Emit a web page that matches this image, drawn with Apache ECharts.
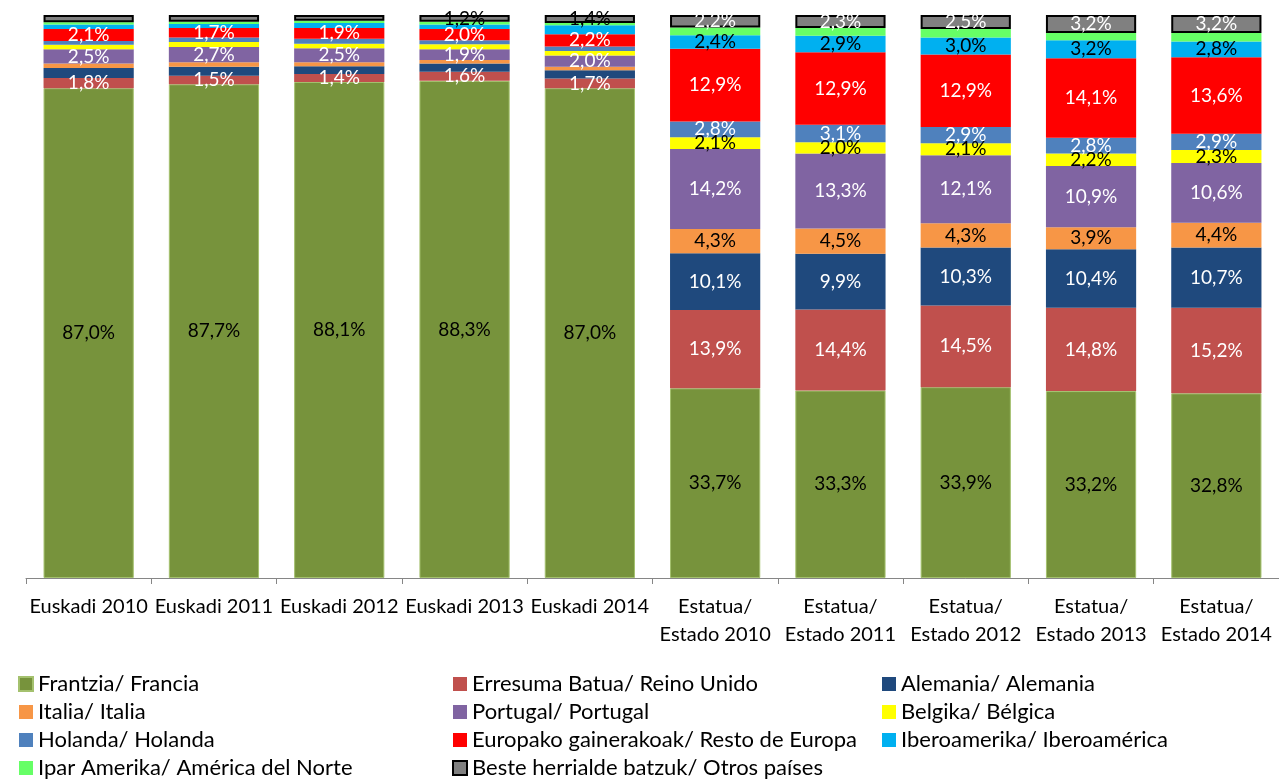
<!DOCTYPE html>
<html>
<head>
<meta charset="utf-8">
<script src="https://cdn.jsdelivr.net/npm/echarts@6/dist/echarts.min.js"></script>
<style>
html,body{margin:0;padding:0;background:#fff;}
#c{width:1279px;height:779px;}
</style>
</head>
<body>
<div id="c"></div>
<script>
var categories = ['Euskadi 2010','Euskadi 2011','Euskadi 2012','Euskadi 2013','Euskadi 2014',
  'Estatua/\nEstado 2010','Estatua/\nEstado 2011','Estatua/\nEstado 2012','Estatua/\nEstado 2013','Estatua/\nEstado 2014'];

var seriesNames = ['Frantzia/ Francia','Erresuma Batua/ Reino Unido','Alemania/ Alemania','Italia/ Italia',
  'Portugal/ Portugal','Belgika/ Bélgica','Holanda/ Holanda','Europako gainerakoak/ Resto de Europa',
  'Iberoamerika/ Iberoamérica','Ipar Amerika/ América del Norte','Beste herrialde batzuk/ Otros países'];

var francia   = [87.0, 87.7, 88.1, 88.3, 87.0, 33.7, 33.3, 33.9, 33.2, 32.8];
var reinoUnido= [1.8, 1.5, 1.4, 1.6, 1.7, 13.9, 14.4, 14.5, 14.8, 15.2];
var alemania  = [1.8, 1.6, 1.4, 1.5, 1.5, 10.1, 9.9, 10.3, 10.4, 10.7];
var italia    = [0.8, 0.8, 0.7, 0.6, 0.6, 4.3, 4.5, 4.3, 3.9, 4.4];
var portugal  = [2.5, 2.7, 2.5, 1.9, 2.0, 14.2, 13.3, 12.1, 10.9, 10.6];
var belgica   = [0.8, 0.9, 0.8, 0.9, 0.8, 2.1, 2.0, 2.1, 2.2, 2.3];
var holanda   = [0.7, 0.8, 0.9, 0.7, 0.8, 2.8, 3.1, 2.9, 2.8, 2.9];
var restoEur  = [2.1, 1.7, 1.9, 2.0, 2.2, 12.9, 12.9, 12.9, 14.1, 13.6];
var iberoam   = [0.8, 0.7, 0.9, 0.8, 1.6, 2.4, 2.9, 3.0, 3.2, 2.8];
var norteam   = [0.4, 0.4, 0.4, 0.5, 0.4, 1.4, 1.4, 1.5, 1.3, 1.5];
var otros     = [1.3, 1.2, 1.0, 1.2, 1.4, 2.2, 2.3, 2.5, 3.2, 3.2];

// which value labels are printed on the original chart
var labelsShown = [
  [1,1,1,1,1,1,1,1,1,1],
  [1,1,1,1,1,1,1,1,1,1],
  [0,0,0,0,0,1,1,1,1,1],
  [0,0,0,0,0,1,1,1,1,1],
  [1,1,1,1,1,1,1,1,1,1],
  [0,0,0,0,0,1,1,1,1,1],
  [0,0,0,0,0,1,1,1,1,1],
  [1,1,1,1,1,1,1,1,1,1],
  [0,0,0,0,0,1,1,1,1,1],
  [0,0,0,0,0,0,0,0,0,0],
  [0,0,0,1,1,1,1,1,1,1]
];

var allValues = [francia, reinoUnido, alemania, italia, portugal, belgica, holanda, restoEur, iberoam, norteam, otros];
var colors = ['#77933C','#C0504D','#1F497D','#F79646','#8064A2','#FFFF00','#4F81BD','#FF0000','#00B0F0','#66FF66','#808080'];
var labelColors = ['#000','#fff','#fff','#000','#fff','#000','#fff','#fff','#000','#000','#fff'];

var FONT = 'Lato, "Open Sans", sans-serif';

function fmt(v){ return v.toFixed(1).replace('.', ',') + '%'; }

var series = allValues.map(function(vals, si){
  return {
    name: seriesNames[si],
    type: 'bar',
    stack: 'total',
    barCategoryGap: '28%',
    itemStyle: si === 10 ? {color: colors[si], borderColor: '#000', borderWidth: 2}
             : (si === 0 ? {color: colors[si], borderColor: '#A4C16E', borderWidth: 1} : {color: colors[si]}),
    data: vals.map(function(v, ci){
      var lc = labelColors[si];
      if (si === 10 && ci < 5) lc = '#000';
      return {
        value: v,
        label: {
          show: !!labelsShown[si][ci],
          position: 'inside',
          color: lc,
          fontFamily: FONT,
          fontSize: 19,
          formatter: function(p){ return fmt(p.value); }
        }
      };
    })
  };
});

function legendCol(names, left){
  return {
    orient: 'vertical',
    left: left,
    top: 673,
    height: 200,
    width: 430,
    data: names,
    icon: 'rect',
    itemWidth: 14,
    itemHeight: 14,
    itemGap: 6,
    padding: 0,
    selectedMode: false,
    textStyle: {fontFamily: FONT, fontSize: 22, color: '#000', lineHeight: 22}
  };
}

var chart = echarts.init(document.getElementById('c'), null, {renderer: 'canvas'});
chart.setOption({
  animation: false,
  grid: {left: 26, right: 0, top: 15, bottom: 201, containLabel: false},
  xAxis: {
    type: 'category',
    data: categories,
    axisLine: {lineStyle: {color: '#868686', width: 1}},
    axisTick: {show: true, length: 6, lineStyle: {color: '#868686'}},
    axisLabel: {
      interval: 0,
      margin: 15,
      fontFamily: FONT,
      fontSize: 20,
      color: '#000',
      lineHeight: 28
    }
  },
  yAxis: {type: 'value', min: 0, max: 100, show: false},
  legend: [
    legendCol([seriesNames[0], seriesNames[3], seriesNames[6], seriesNames[9]], 18),
    legendCol([seriesNames[1], seriesNames[4], seriesNames[7], seriesNames[10]], 452),
    legendCol([seriesNames[2], seriesNames[5], seriesNames[8]], 882)
  ],
  series: series
});
</script>
</body>
</html>
